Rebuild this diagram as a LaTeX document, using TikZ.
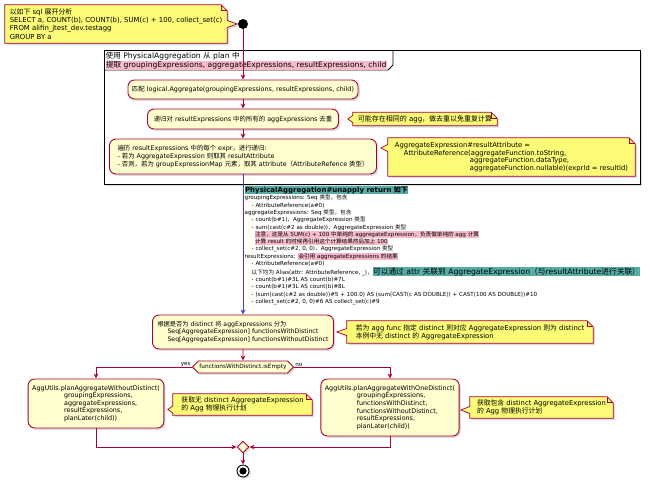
\documentclass[tikz,border=0pt]{standalone}
\usepackage{fontspec}
\setmainfont{DejaVu Sans}
\newfontfamily\cjkfont{Noto Sans CJK SC}
\usetikzlibrary{shapes.geometric,shapes.symbols,shadows,arrows.meta,calc}
% automatic switch to the CJK font for CJK characters
\XeTeXinterchartokenstate=1
\newXeTeXintercharclass\cjkclass
\newcount\cjkn
\newcommand\setclassrange[3]{\cjkn=#1\relax
  \loop\XeTeXcharclass\cjkn=#3\relax
  \ifnum\cjkn<#2\relax\advance\cjkn by 1\relax\repeat}
\setclassrange{"0020}{"007E}{0}
\setclassrange{"3000}{"303F}{\cjkclass}
\setclassrange{"4E00}{"9FFF}{\cjkclass}
\setclassrange{"FF00}{"FFEF}{\cjkclass}
\XeTeXinterchartoks 0 \cjkclass = {\begingroup\cjkfont}
\XeTeXinterchartoks 4095 \cjkclass = {\begingroup\cjkfont}
\XeTeXinterchartoks \cjkclass 0 = {\endgroup}
\XeTeXinterchartoks \cjkclass 4095 = {\endgroup}

\definecolor{crim}{HTML}{A80036}
\definecolor{actfill}{HTML}{FEFECE}
\definecolor{notefill}{HTML}{FBFB77}
\definecolor{hlpink}{HTML}{F9BACA}
\definecolor{hlteal}{HTML}{56ADA5}
\definecolor{blueline}{HTML}{3B3BD8}
\pgfdeclarelayer{back}
\pgfdeclarelayer{frame}
\pgfdeclarelayer{bg}
\pgfsetlayers{back,frame,bg,main}

\newcommand\hlt[2]{{\setlength{\fboxsep}{0.4pt}\colorbox{#1}{#2}}}
\newcommand\fs[2]{\fontsize{#1}{#2}\selectfont}
% note outline with pointer on the left: #1 node, #2 pointer length, #3 vertical offset of pointer
\newcommand\notel[3]{%
  \begin{pgfonlayer}{bg}
  \path[notebg] (#1.north west) -- ([xshift=-6pt]#1.north east) -- ([yshift=-6pt]#1.north east)
     -- (#1.south east) -- (#1.south west) -- ([yshift=#3-3.5pt]#1.west)
     -- ([xshift=-#2,yshift=#3]#1.west) -- ([yshift=#3+3.5pt]#1.west) -- cycle;
  \draw[notefold] ([xshift=-6pt]#1.north east) -- ([xshift=-6pt,yshift=-6pt]#1.north east) -- ([yshift=-6pt]#1.north east);
  \end{pgfonlayer}}

\begin{document}
\begin{tikzpicture}[x=1pt,y=-1pt,
  shadowed/.style={drop shadow={shadow xshift=1.8pt,shadow yshift=-1.8pt,opacity=0.28}},
  act/.style={draw=crim, fill=actfill, rounded corners=6.5pt, line width=0.9pt,
    inner xsep=4pt, inner ysep=1pt, align=left, font=\fs{6.4}{7.6}, shadowed},
  notetxt/.style={inner xsep=3pt, inner ysep=1pt, align=left, font=\fs{6.8}{8}},
  notebg/.style={draw=crim, fill=notefill, line width=0.7pt, shadowed},
  notefold/.style={draw=crim, line width=0.7pt},
  flow/.style={draw=crim, line width=0.9pt, -{Stealth[length=5pt,width=4.5pt,inset=1.5pt]}},
  flowblue/.style={flow, draw=blueline},
  lbl/.style={inner sep=0.5pt, font=\fs{5.6}{6.5}},
]
\useasboundingbox (0,0) rectangle (650,482);
\begin{pgfonlayer}{back}
\fill[white] (0,0) rectangle (650,482);
\end{pgfonlayer}

% partition frame
\begin{pgfonlayer}{frame}
\node[draw=black, line width=1.1pt, fill=white, minimum width=536pt, minimum height=134pt,
  anchor=north west, inner sep=0pt, shadowed] (part) at (104,50) {};
\draw[line width=0.9pt] ([yshift=-20pt]part.north west) -- ++(284pt,0) -- ++(5pt,5pt) -- ++(0,15pt);
\end{pgfonlayer}
\node[anchor=north west, inner sep=0pt, align=left, font=\fs{7.6}{9.6}] (ptitle) at (105.5,51.5)
  {使用 PhysicalAggregation 从 plan 中\\\hlt{hlpink}{提取 groupingExpressions, aggregateExpressions, resultExpressions, child}};

% start
\node[circle, fill=black, minimum size=10pt, inner sep=0pt] (start) at (243,24) {};

% activities
\node[act, minimum width=230pt, minimum height=19pt] (a1) at (243,89.5)
  {匹配 logical.Aggregate(groupingExpressions, resultExpressions, child)};
\node[act, minimum width=191pt, minimum height=20pt] (a2) at (243,119)
  {递归对 resultExpressions 中的所有的 aggExpressions 去重};
\node[act, minimum width=267pt, minimum height=35pt] (a3) at (243,156.5)
  {遍历 resultExpressions 中的每个 expr，进行递归:\\- 若为 AggregateExpression 则取其 resultAttribute\\- 否则，若为 groupExpressionMap 元素，取其 attribute（AttributeRefence 类型）};
\node[act, minimum width=181pt, minimum height=34pt, font=\fs{6.2}{7.8}] (a4) at (243,332)
  {根据是否为 distinct 将 aggExpressions 分为\\\hspace*{10pt}Seq[AggregateExpression] functionsWithDistinct\\\hspace*{10pt}Seq[AggregateExpression] functionsWithoutDistinct};
\node[signal, signal to=west and east, signal pointer angle=90, draw=crim, fill=actfill,
  line width=0.9pt, minimum height=12pt, inner xsep=1pt, inner ysep=0pt,
  font=\fs{5.8}{6.5}, shadowed] (dec) at (243,367) {functionsWithDistinct.isEmpty};
\node[lbl, anchor=south east] (yes) at ([xshift=-0.5pt]dec.west) {yes};
\node[lbl, anchor=south west] (no) at ([xshift=0.5pt]dec.east) {no};
\node[act, minimum width=134pt, minimum height=49pt] (aL) at (96,403.5)
  {AggUtils.planAggregateWithoutDistinct(\\\hspace*{32pt}groupingExpressions,\\\hspace*{32pt}aggregateExpressions,\\\hspace*{32pt}resultExpressions,\\\hspace*{32pt}planLater(child))};
\node[act, minimum width=136pt, minimum height=57pt] (aR) at (390,407.5)
  {AggUtils.planAggregateWithOneDistinct(\\\hspace*{32pt}groupingExpressions,\\\hspace*{32pt}functionsWithDistinct,\\\hspace*{32pt}functionsWithoutDistinct,\\\hspace*{32pt}resultExpressions,\\\hspace*{32pt}planLater(child))};
\node[diamond, draw=crim, fill=actfill, line width=0.9pt, minimum size=12pt, inner sep=0pt, shadowed] (merge) at (243,447) {};
\node[circle, draw=black, fill=white, line width=0.9pt, minimum size=12pt, inner sep=0pt, shadowed] (end) at (243,471) {};
\fill (end.center) circle (3.6pt);

% text block
\node[anchor=north west, inner sep=0pt, align=left, font=\fs{5.6}{7.3}] (ret) at (244.5,186) {%
{\fs{7}{8}\bfseries\hlt{hlteal}{PhysicalAggregation\#unapply return 如下}}\\
groupingExpressions: Seq 类型，包含\\
\hspace*{7pt}- AttributeReference(a\#0)\\
aggregateExpressions: Seq 类型，包含\\
\hspace*{7pt}- count(b\#1)，AggregateExpression 类型\\
\hspace*{7pt}- sum(cast(c\#2 as double))，AggregateExpression 类型\\
\hspace*{10pt}\hlt{hlpink}{注意，这是从 SUM(c) + 100 中单纯的 aggregateExpression，负责做单纯的 agg 计算}\\
\hspace*{10pt}\hlt{hlpink}{计算 result 的时候再引用这个计算结果然后加上 100}\\
\hspace*{7pt}- collect\_set(c\#2, 0, 0)，AggregateExpression 类型\\
resultExpressions: \hlt{hlpink}{会引用 aggregateExpressions 的结果}\\
\hspace*{7pt}- AttributeReference(a\#0)\\
\hspace*{7pt}以下均为 Alias(attr: AttributeReference, \_)，\hlt{hlteal}{\fs{7.7}{8.2}可以通过 attr 关联到 AggregateExpression（与resultAttribute进行关联）}\\
\hspace*{7pt}- count(b\#1)\#3L AS count(b)\#7L\\
\hspace*{7pt}- count(b\#1)\#3L AS count(b)\#8L\\
\hspace*{7pt}- (sum(cast(c\#2 as double))\#5 + 100.0) AS (sum(CAST(c AS DOUBLE)) + CAST(100 AS DOUBLE))\#10\\
\hspace*{7pt}- collect\_set(c\#2, 0, 0)\#6 AS collect\_set(c)\#9};

% notes
\node[notetxt, minimum width=222pt, minimum height=38pt, font=\fs{6.9}{8.2}] (n0) at (116,24)
  {以如下 sql 展开分析\\SELECT a, COUNT(b), COUNT(b), SUM(c) + 100, collect\_set(c)\\FROM alifin\_jtest\_dev.testagg\\GROUP BY a};
\begin{pgfonlayer}{bg}
\path[notebg] (n0.north west) -- ([xshift=-6pt]n0.north east) -- ([yshift=-6pt]n0.north east)
  -- ([yshift=3.5pt]n0.east) -- ([xshift=10pt]n0.east) -- ([yshift=-3.5pt]n0.east)
  -- (n0.south east) -- (n0.south west) -- cycle;
\draw[notefold] ([xshift=-6pt]n0.north east) -- ([xshift=-6pt,yshift=-6pt]n0.north east) -- ([yshift=-6pt]n0.north east);
\end{pgfonlayer}

\node[notetxt, minimum width=144pt, minimum height=13pt, font=\fs{7}{8}] (n2) at (425,119)
  {可能存在相同的 agg，做去重以免重复计算};
\notel{n2}{5pt}{0pt}
\node[notetxt, minimum width=247pt, minimum height=38pt, font=\fs{6.8}{7.7}] (n3) at (511.5,157)
  {AggregateExpression\#resultAttribute =\\\hspace*{9pt}AttributeReference(aggregateFunction.toString,\\\hspace*{75pt}aggregateFunction.dataType,\\\hspace*{75pt}aggregateFunction.nullable)(exprId = resultId)};
\notel{n3}{7pt}{9pt}
\node[notetxt, minimum width=246pt, minimum height=22pt] (n4) at (470,332)
  {若为 agg func 指定 distinct 则对应 AggregateExpression 则为 distinct\\本例中无 distinct 的 AggregateExpression};
\notel{n4}{10pt}{0pt}
\node[notetxt, minimum width=139pt, minimum height=21pt] (nL) at (242.5,404.5)
  {获取无 distinct AggregateExpression\\的 Agg 物理执行计划};
\notel{nL}{5pt}{-5pt}
\node[notetxt, minimum width=143pt, minimum height=21pt] (nR) at (541.5,407.5)
  {获取包含 distinct AggregateExpression\\的 Agg 物理执行计划};
\notel{nR}{9pt}{-2.5pt}

% connectors
\draw[flow] (start) -- (a1);
\draw[flow] (a1) -- (a2);
\draw[flow] (a2) -- (a3);
\draw[flowblue] (a3) -- (a4);
\draw[flow] (a4) -- (dec);
\draw[flow] (dec.west) -| (aL.north);
\draw[flow] (dec.east) -| (aR.north);
\draw[flow] (aL.south) |- (merge.west);
\draw[flow] (aR.south) |- (merge.east);
\draw[flow] (merge) -- (end);
\end{tikzpicture}
\end{document}
